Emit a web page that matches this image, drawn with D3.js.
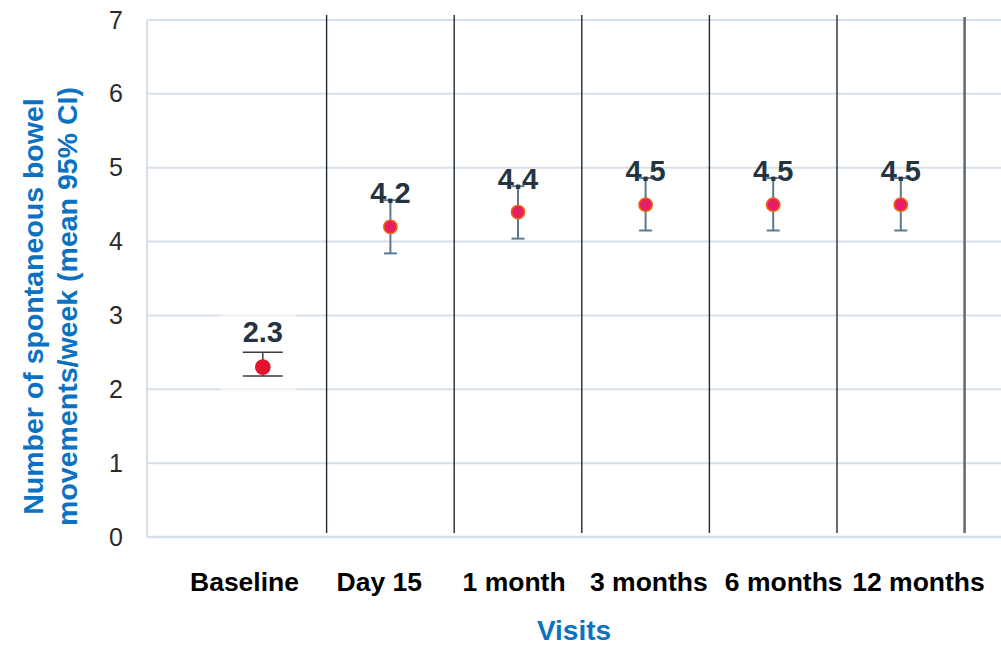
<!DOCTYPE html>
<html>
<head>
<meta charset="utf-8">
<script src="https://cdn.jsdelivr.net/npm/d3@7"></script>
<style>
  html, body { margin: 0; padding: 0; background: #fff; }
  svg { display: block; font-family: "Liberation Sans", Arial, sans-serif; }
</style>
</head>
<body>
<svg id="chart" width="1001" height="645"></svg>
<script>
// Spontaneous bowel movements per week, mean with 95% CI, by visit
const visits = ["Baseline", "Day 15", "1 month", "3 months", "6 months", "12 months"];
const means = [2.3, 4.2, 4.4, 4.5, 4.5, 4.5];
const ciLow = [2.18, 3.84, 4.04, 4.15, 4.15, 4.15];
const ciHigh = [2.5, 4.56, 4.75, 4.86, 4.86, 4.86];
const yTicks = [0, 1, 2, 3, 4, 5, 6, 7];

const rows = visits.map((v, i) => ({ visit: v, mean: means[i], lo: ciLow[i], hi: ciHigh[i], i }));

const plotLeft = 147, plotRight = 1001, plotTop = 20, plotBottom = 537;

const svg = d3.select("#chart");

const y = d3.scaleLinear().domain([0, 7]).range([plotBottom, plotTop]);
// one column per visit; the marks sit in the middle of each column
const x = d3.scaleBand().domain(visits).range([199, 964.6]).paddingInner(0).paddingOuter(0);
const cx = v => x(v) + x.bandwidth() / 2;
// category captions under the plot
const xLab = d3.scalePoint().domain(visits).range([244, 918]);

const gridColor = "#d7e0e8";

// horizontal gridlines
svg.append("g")
  .selectAll("line")
  .data(yTicks.filter(t => t > 0))
  .join("line")
  .attr("x1", plotLeft).attr("x2", plotRight)
  .attr("y1", d => y(d)).attr("y2", d => y(d))
  .attr("stroke", gridColor).attr("stroke-width", 2);

// faint panel behind the baseline estimate
svg.append("rect")
  .attr("x", cx("Baseline") - 42).attr("y", y(3) - 2)
  .attr("width", 76).attr("height", y(2) - y(3) + 4)
  .attr("fill", "#fff").attr("opacity", 0.5);

// axis lines
svg.append("line")
  .attr("x1", plotLeft).attr("x2", plotLeft).attr("y1", plotTop).attr("y2", plotBottom)
  .attr("stroke", gridColor).attr("stroke-width", 2);
svg.append("line")
  .attr("x1", plotLeft).attr("x2", plotRight).attr("y1", plotBottom).attr("y2", plotBottom)
  .attr("stroke", gridColor).attr("stroke-width", 2.5);

// column separators
const last = visits.length - 1;
svg.append("g")
  .selectAll("line")
  .data(visits)
  .join("line")
  .attr("x1", d => x(d) + x.bandwidth()).attr("x2", d => x(d) + x.bandwidth())
  .attr("y1", (d, i) => i === last ? plotTop - 3 : plotTop - 5)
  .attr("y2", plotBottom - 4)
  .attr("stroke", (d, i) => i === last ? "#5d6872" : "#1d2b38")
  .attr("stroke-width", (d, i) => i === last ? 2.5 : 1.4);

// y axis tick labels
const yAxis = d3.axisLeft(y).tickValues(yTicks).tickSize(0).tickPadding(24).tickFormat(d3.format("d"));
const gy = svg.append("g").attr("transform", `translate(${plotLeft},0)`).call(yAxis);
gy.select(".domain").remove();
gy.selectAll("text")
  .attr("font-size", 25).attr("fill", "#2b2b2b")
  .attr("font-family", "'Liberation Sans', Arial, sans-serif");

// x axis captions
const xAxis = d3.axisBottom(xLab).tickSize(0).tickPadding(0);
const gx = svg.append("g").attr("transform", `translate(0,${plotBottom + 35})`).call(xAxis);
gx.select(".domain").remove();
gx.selectAll("text")
  .attr("font-size", 26.5).attr("font-weight", "bold").attr("fill", "#000")
  .attr("font-family", "'Liberation Sans', Arial, sans-serif");

// error bars
const barColor = d => d.i === 0 ? "#3b3b3b" : "#5b7a8f";
const barWidth = d => d.i === 0 ? 1.5 : 2;
const capHalf = d => d.i === 0 ? 20 : 6.5;
const eb = svg.append("g").selectAll("g").data(rows).join("g");
eb.append("line")
  .attr("x1", d => cx(d.visit)).attr("x2", d => cx(d.visit))
  .attr("y1", d => y(d.hi)).attr("y2", d => y(d.lo))
  .attr("stroke", barColor).attr("stroke-width", barWidth);
["hi", "lo"].forEach(k => {
  eb.append("line")
    .attr("x1", d => cx(d.visit) - capHalf(d))
    .attr("x2", d => cx(d.visit) + capHalf(d))
    .attr("y1", d => y(d[k])).attr("y2", d => y(d[k]))
    .attr("stroke", barColor).attr("stroke-width", barWidth);
});

// mean markers
svg.append("g").selectAll("circle").data(rows).join("circle")
  .attr("cx", d => cx(d.visit)).attr("cy", d => y(d.mean))
  .attr("r", d => d.i === 0 ? 7.8 : 6.6)
  .attr("fill", d => d.i === 0 ? "#e8112d" : "#e61e64")
  .attr("stroke", d => d.i === 0 ? "none" : "#f0600f")
  .attr("stroke-width", 1.6);

// value labels above each interval
svg.append("g").selectAll("text").data(rows).join("text")
  .attr("x", d => cx(d.visit))
  .attr("y", d => d.i === 0 ? y(d.hi) - 10 : y(d.hi) + 2.5)
  .attr("text-anchor", "middle")
  .attr("font-size", 29).attr("font-weight", "bold").attr("fill", "#243440")
  .text(d => d3.format(".1f")(d.mean));

// axis titles
const blue = "#0b72c1";
svg.append("text")
  .attr("x", 574).attr("y", 640)
  .attr("text-anchor", "middle")
  .attr("font-size", 28).attr("font-weight", "bold").attr("fill", blue)
  .text("Visits");

const yt = svg.append("text")
  .attr("transform", "translate(43,306.5) rotate(-90)")
  .attr("text-anchor", "middle")
  .attr("font-size", 28.5).attr("font-weight", "bold").attr("fill", blue);
yt.append("tspan").attr("x", 0).attr("y", 0).text("Number of spontaneous bowel");
yt.append("tspan").attr("x", 0).attr("y", 34).text("movements/week (mean 95% CI)");
</script>
</body>
</html>
